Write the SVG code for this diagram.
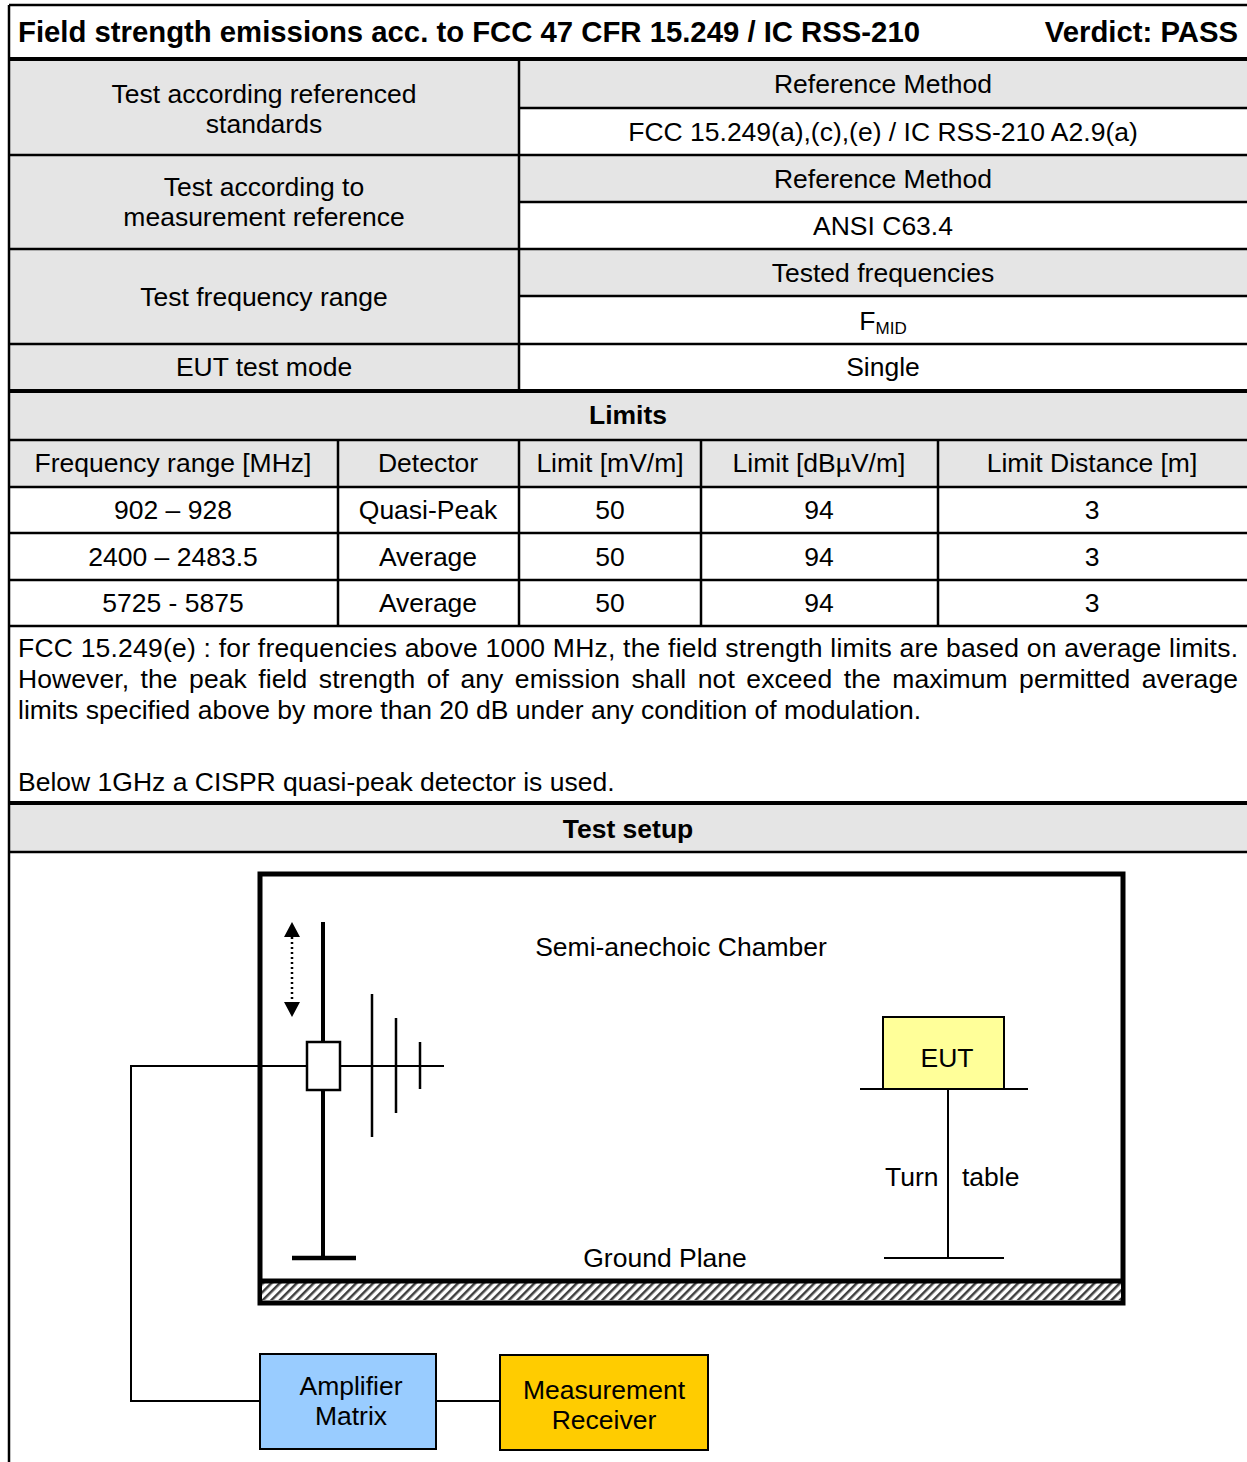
<svg xmlns="http://www.w3.org/2000/svg" width="1247" height="1462" viewBox="0 0 1247 1462">
<style>
  text { font-family: "Liberation Sans", Arial, sans-serif; font-size: 26.5px; fill: #000; }
  .b { font-weight: bold; }
  .t { font-size: 29.3px; font-weight: bold; }
  .c { text-anchor: middle; }
  .gray { fill: #e5e5e5; }
  .ln { stroke: #000; stroke-width: 2.5; fill: none; }
  .thick { stroke: #000; stroke-width: 4; fill: none; }
  .wire { stroke: #000; stroke-width: 2; fill: none; }
  .elem { stroke: #000; stroke-width: 2.5; fill: none; }
</style>
<defs>
  <pattern id="hatch" width="6" height="6" patternUnits="userSpaceOnUse" patternTransform="rotate(45)">
    <rect width="6" height="6" fill="#ffffff"/>
    <rect x="0" y="0" width="2.5" height="6" fill="#404040"/>
  </pattern>
  <marker id="tri" viewBox="0 0 10 10" refX="0" refY="5" markerWidth="15" markerHeight="16" markerUnits="userSpaceOnUse" orient="auto-start-reverse" preserveAspectRatio="none">
    <path d="M0,0 L10,5 L0,10 z" fill="#000"/>
  </marker>
</defs>
<rect width="1247" height="1462" fill="#ffffff"/>

<g id="title">
  <text class="t" x="18" y="42">Field strength emissions acc. to FCC 47 CFR 15.249 / IC RSS-210</text>
  <text class="t" x="1238" y="42" text-anchor="end">Verdict: PASS</text>
</g>

<g id="info-table">
  <rect class="gray" x="9" y="60" width="510" height="331"/>
  <rect class="gray" x="519" y="60" width="728" height="48"/>
  <rect class="gray" x="519" y="155" width="728" height="47"/>
  <rect class="gray" x="519" y="249" width="728" height="47"/>
  <text class="c" x="264" y="103">Test according referenced</text>
  <text class="c" x="264" y="133">standards</text>
  <text class="c" x="264" y="196">Test according to</text>
  <text class="c" x="264" y="226">measurement reference</text>
  <text class="c" x="264" y="306">Test frequency range</text>
  <text class="c" x="264" y="376">EUT test mode</text>
  <text class="c" x="883" y="93">Reference Method</text>
  <text class="c" x="883" y="141">FCC 15.249(a),(c),(e) / IC RSS-210 A2.9(a)</text>
  <text class="c" x="883" y="188">Reference Method</text>
  <text class="c" x="883" y="235">ANSI C63.4</text>
  <text class="c" x="883" y="282">Tested frequencies</text>
  <text class="c" x="883" y="330">F<tspan font-size="17" dy="4">MID</tspan></text>
  <text class="c" x="883" y="376">Single</text>
  <path class="ln" d="M519,108 H1247 M9,155 H1247 M519,202 H1247 M9,249 H1247 M519,296 H1247 M9,344 H1247 M519,60 V395"/>
</g>

<g id="limits-table">
  <rect class="gray" x="9" y="391" width="1238" height="96"/>
  <text class="c b" x="628" y="424">Limits</text>
  <text class="c" x="173" y="472">Frequency range [MHz]</text>
  <text class="c" x="428" y="472">Detector</text>
  <text class="c" x="610" y="472">Limit [mV/m]</text>
  <text class="c" x="819" y="472">Limit [dBµV/m]</text>
  <text class="c" x="1092" y="472">Limit Distance [m]</text>
  <text class="c" x="173" y="519">902 – 928</text>
  <text class="c" x="428" y="519">Quasi-Peak</text>
  <text class="c" x="610" y="519">50</text>
  <text class="c" x="819" y="519">94</text>
  <text class="c" x="1092" y="519">3</text>
  <text class="c" x="173" y="566">2400 – 2483.5</text>
  <text class="c" x="428" y="566">Average</text>
  <text class="c" x="610" y="566">50</text>
  <text class="c" x="819" y="566">94</text>
  <text class="c" x="1092" y="566">3</text>
  <text class="c" x="173" y="612">5725 - 5875</text>
  <text class="c" x="428" y="612">Average</text>
  <text class="c" x="610" y="612">50</text>
  <text class="c" x="819" y="612">94</text>
  <text class="c" x="1092" y="612">3</text>
  <path class="ln" d="M9,440 H1247 M9,487 H1247 M9,533 H1247 M9,580 H1247 M9,626 H1247 M338,440 V626 M519,440 V626 M701,440 V626 M938,440 V626"/>
</g>

<g id="notes">
  <text x="18" y="657" textLength="1220" lengthAdjust="spacing">FCC 15.249(e) : for frequencies above 1000 MHz, the field strength limits are based on average limits.</text>
  <text x="18" y="688" textLength="1220" lengthAdjust="spacing" word-spacing="4">However, the peak field strength of any emission shall not exceed the maximum permitted average</text>
  <text x="18" y="719">limits specified above by more than 20 dB under any condition of modulation.</text>
  <text x="18" y="791">Below 1GHz a CISPR quasi-peak detector is used.</text>
</g>

<g id="setup-header">
  <rect class="gray" x="9" y="803" width="1238" height="49"/>
  <text class="c b" x="628" y="838">Test setup</text>
  <path class="ln" d="M9,852 H1247"/>
</g>

<g id="frame">
  <path class="ln" d="M9,5 H1247 M9,5 V1462"/>
  <path class="thick" d="M9,59 H1247 M9,391 H1247 M9,803 H1247"/>
</g>

<g id="chamber">
  <rect x="260" y="874" width="863" height="429" fill="#ffffff" stroke="#000" stroke-width="5"/>
  <rect x="262" y="1283" width="859" height="17" fill="url(#hatch)"/>
  <path d="M260,1281 H1123" stroke="#000" stroke-width="5"/>
  <text class="c" x="681" y="956">Semi-anechoic Chamber</text>
  <text class="c" x="665" y="1267">Ground Plane</text>
</g>

<g id="connectors">
  <path class="wire" d="M444,1066 H131 V1401 H260"/>
  <path class="wire" d="M436,1401 H500"/>
</g>

<g id="antenna">
  <path d="M323,922 V1258" stroke="#000" stroke-width="4"/>
  <path d="M292,1258 H356" stroke="#000" stroke-width="4.5"/>
  <rect x="307" y="1042" width="33" height="48" fill="#ffffff" stroke="#000" stroke-width="2.5"/>
  <path class="elem" d="M372,994 V1137 M396,1018 V1113 M420,1042 V1089"/>
  <path d="M340,1066 H444" class="wire"/>
  <line x1="292" y1="937" x2="292" y2="1002" stroke="#000" stroke-width="2.5" stroke-dasharray="2 3" marker-start="url(#tri)" marker-end="url(#tri)"/>
</g>

<g id="eut">
  <rect x="883" y="1017" width="121" height="72" fill="#ffff99" stroke="#000" stroke-width="2"/>
  <text class="c" x="947" y="1067">EUT</text>
  <path class="wire" d="M860,1089 H1028 M948,1089 V1258 M884,1258 H1004"/>
  <text x="885" y="1186">Turn</text>
  <text x="962" y="1186">table</text>
</g>

<g id="amplifier">
  <rect x="260" y="1354" width="176" height="95" fill="#99ccff" stroke="#000" stroke-width="2"/>
  <text class="c" x="351" y="1395">Amplifier</text>
  <text class="c" x="351" y="1425">Matrix</text>
</g>

<g id="receiver">
  <rect x="500" y="1355" width="208" height="95" fill="#ffcc00" stroke="#000" stroke-width="2"/>
  <text class="c" x="604" y="1399">Measurement</text>
  <text class="c" x="604" y="1429">Receiver</text>
</g>
</svg>
